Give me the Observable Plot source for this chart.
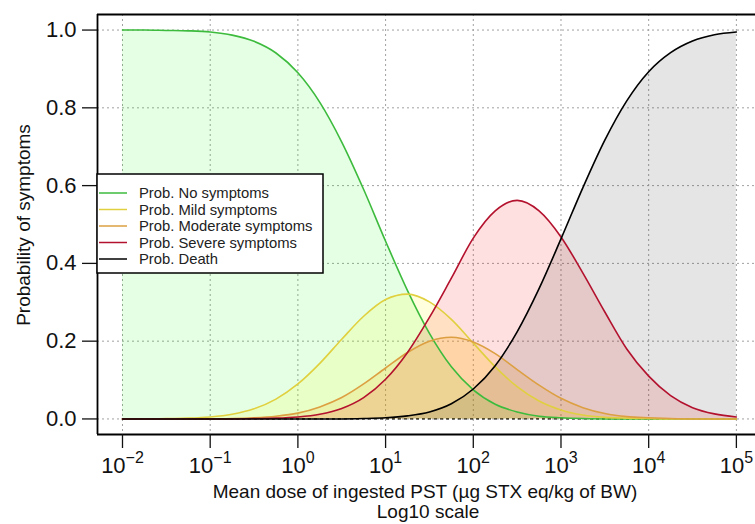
<!DOCTYPE html>
<html><head><meta charset="utf-8">
<script src="https://cdn.jsdelivr.net/npm/d3@7"></script>
<script src="https://cdn.jsdelivr.net/npm/@observablehq/plot@0.6"></script>
<style>
html,body{margin:0;padding:0;background:#fff;overflow:hidden;}
#chart svg{display:block;}
</style>
</head><body><div id="chart"></div>
<script>
// ---- data ----
const logDose = [-2,-1.75,-1.5,-1.25,-1,-0.75,-0.5,-0.25,0,0.25,0.5,0.75,1,1.25,1.5,1.75,2,2.25,2.5,2.75,3,3.25,3.5,3.75,4,4.25,4.5,4.75,5];
const probNone     = [1.000,1.000,0.999,0.998,0.995,0.987,0.971,0.941,0.890,0.814,0.712,0.590,0.457,0.330,0.220,0.134,0.075,0.038,0.018,0.007,0.003,0.001,0.000,0.000,0.000,0.000,0.000,0.000,0.000];
const probMild     = [0.000,0.000,0.001,0.002,0.005,0.012,0.026,0.051,0.090,0.143,0.205,0.264,0.307,0.321,0.301,0.256,0.195,0.134,0.083,0.046,0.023,0.010,0.004,0.002,0.001,0.000,0.000,0.000,0.000];
const probModerate = [0.000,0.000,0.000,0.000,0.000,0.001,0.003,0.007,0.015,0.031,0.055,0.090,0.131,0.171,0.200,0.210,0.198,0.168,0.127,0.087,0.053,0.029,0.014,0.006,0.003,0.001,0.000,0.000,0.000];
const probSevere   = [0.000,0.000,0.000,0.000,0.000,0.000,0.001,0.002,0.005,0.012,0.027,0.055,0.102,0.171,0.261,0.362,0.465,0.535,0.562,0.535,0.468,0.375,0.275,0.180,0.110,0.060,0.029,0.013,0.005];
const probDeath    = [0.000,0.000,0.000,0.000,0.000,0.000,0.000,0.000,0.000,0.000,0.000,0.001,0.003,0.008,0.018,0.039,0.077,0.137,0.224,0.335,0.463,0.595,0.717,0.818,0.893,0.942,0.972,0.988,0.995];

const seriesNames = ["Prob. No symptoms","Prob. Mild symptoms","Prob. Moderate symptoms","Prob. Severe symptoms","Prob. Death"];
const lineColors  = ["#3dbb3d","#e0d040","#dca043","#b3122e","#000000"];
const fillColors  = ["#00ff00","#ffff00","#ffa500","#ff0000","#000000"];
const fillOpacity = [0.10,0.13,0.15,0.12,0.10];

const xTickExponents = [-2,-1,0,1,2,3,4,5];
const yTicks = [0,0.2,0.4,0.6,0.8,1.0];
const xTitle = "Mean dose of ingested PST (µg STX eq/kg of BW)";
const xSubtitle = "Log10 scale";
const yTitle = "Probability of symptoms";

// ---- build table ----
const seriesValues = [probNone, probMild, probModerate, probSevere, probDeath];
const table = seriesValues.flatMap((vals, i) => vals.map((p, j) => ({series: seriesNames[i], dose: 10 ** logDose[j], p})));
const xTicks = xTickExponents.map(e => 10 ** e);

const W = 755, H = 524;
const xDomain = [10 ** -2.285, 10 ** 5.218];
const yDomain = [-0.04, 1.04];
const grid = {stroke: "#a0a0a0", strokeOpacity: 1, strokeDasharray: "2,3", strokeWidth: 1};

const marks = [
  Plot.gridX(xTicks, grid),
  Plot.gridY(yTicks, grid),
  Plot.ruleY([0], {x1: xTicks[0], x2: xTicks[xTicks.length - 1], stroke: "black", strokeDasharray: "3,3", strokeWidth: 1.3})
];
seriesNames.forEach((name, i) => {
  marks.push(Plot.areaY(table.filter(d => d.series === name), {x: "dose", y: "p", fill: fillColors[i], fillOpacity: fillOpacity[i], curve: "monotone-x"}));
});
seriesNames.forEach((name, i) => {
  marks.push(Plot.lineY(table.filter(d => d.series === name), {x: "dose", y: "p", stroke: lineColors[i], strokeWidth: 1.6, curve: "monotone-x"}));
});
marks.push(
  Plot.ruleX([xDomain[0]], {stroke: "black", strokeWidth: 1.8}),
  Plot.ruleY(yDomain, {stroke: "black", strokeWidth: 1.8}),
  Plot.axisY({ticks: yTicks, tickSize: 15, tickPadding: 6, tickFormat: d => d.toFixed(1), fontSize: 22, strokeWidth: 1.3, label: null}),
  Plot.axisX({ticks: xTicks, tickSize: 14, tickPadding: 9, tickFormat: d => String(Math.round(Math.log10(d))), fontSize: 22, strokeWidth: 1.3, label: null})
);

const plot = Plot.plot({
  width: W, height: H,
  marginLeft: 97, marginRight: 0, marginTop: 14, marginBottom: 90,
  x: {type: "log", domain: xDomain},
  y: {domain: yDomain},
  style: {fontFamily: "'Liberation Sans', Arial, sans-serif", background: "white", color: "#111"},
  marks
});
document.getElementById("chart").appendChild(plot);

const svgNS = "http://www.w3.org/2000/svg";
// superscript exponents on x tick labels
plot.querySelectorAll('g[aria-label="x-axis tick label"] text').forEach(t => {
  const e = t.textContent.replace("-", "\u2212");
  t.textContent = "";
  const base = document.createElementNS(svgNS, "tspan");
  base.textContent = "10";
  const sup = document.createElementNS(svgNS, "tspan");
  sup.textContent = e;
  sup.setAttribute("dy", "-10");
  sup.setAttribute("font-size", "16");
  t.append(base, sup);
});

const svg = d3.select(plot);
const font = "'Liberation Sans', Arial, sans-serif";
svg.append("text").attr("x", 425).attr("y", 498).attr("text-anchor", "middle")
  .attr("font-size", 19).attr("font-family", font).attr("fill", "#111").text(xTitle);
svg.append("text").attr("x", 428).attr("y", 518).attr("text-anchor", "middle")
  .attr("font-size", 19).attr("font-family", font).attr("fill", "#111").text(xSubtitle);
svg.append("text").attr("transform", "translate(30,225) rotate(-90)").attr("text-anchor", "middle")
  .attr("font-size", 19).attr("font-family", font).attr("fill", "#111").text(yTitle);

// legend
const lg = svg.append("g");
lg.append("rect").attr("x", 97).attr("y", 174).attr("width", 226).attr("height", 99)
  .attr("fill", "white").attr("stroke", "black").attr("stroke-width", 1.5);
seriesNames.forEach((name, i) => {
  const cy = 193 + i * 16.5;
  lg.append("line").attr("x1", 99).attr("x2", 127).attr("y1", cy).attr("y2", cy)
    .attr("stroke", lineColors[i]).attr("stroke-width", 1.5);
  lg.append("text").attr("x", 139).attr("y", cy + 5).attr("text-anchor", "start")
    .attr("font-size", 14.8).attr("font-family", font)
    .attr("fill", "#222").text(name);
});
</script>
</body></html>
